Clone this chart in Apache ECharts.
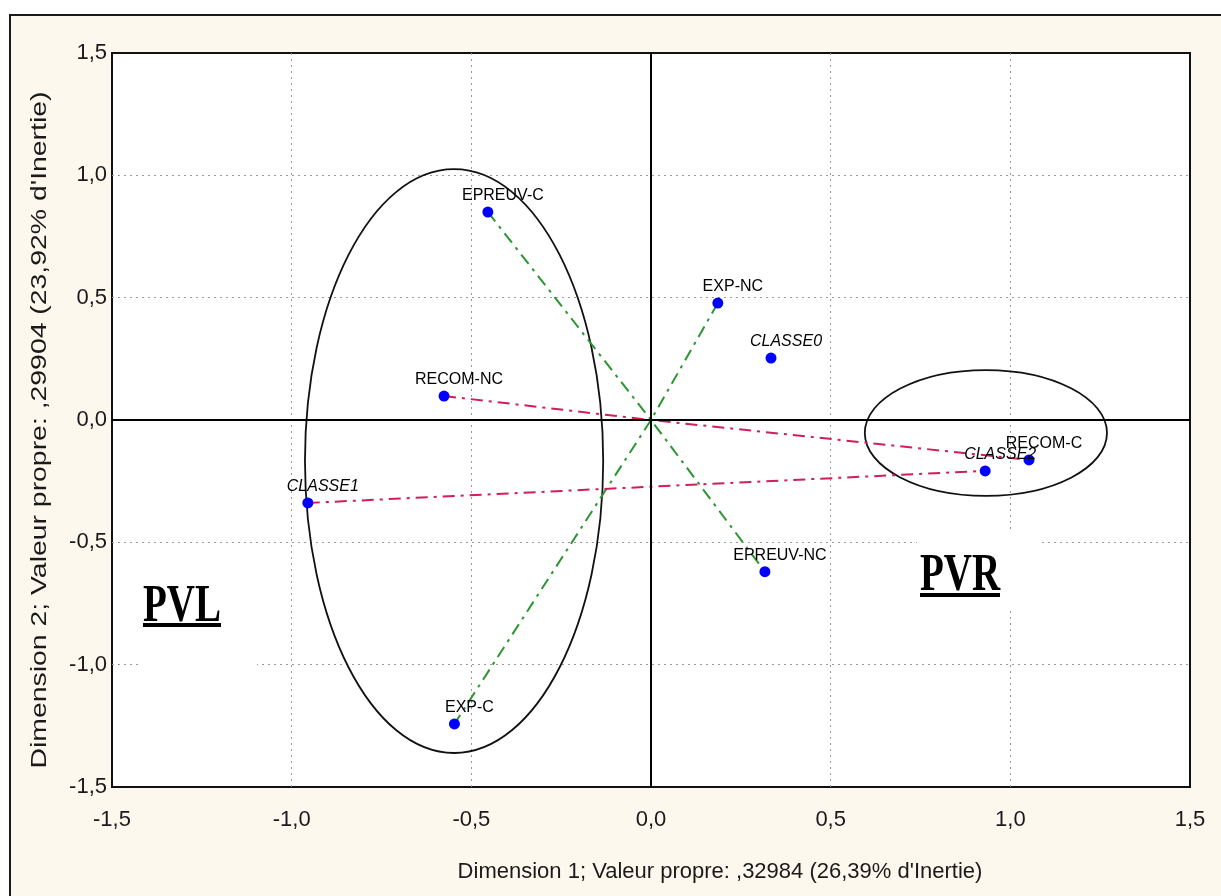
<!DOCTYPE html>
<html>
<head>
<meta charset="utf-8">
<script src="https://cdn.jsdelivr.net/npm/echarts@6/dist/echarts.min.js"></script>
<style>
  html, body { margin: 0; padding: 0; background: #ffffff; overflow: hidden; }
  #wrap { position: relative; width: 1221px; height: 896px; overflow: hidden; background: #ffffff; }
  #frame { position: absolute; left: 9px; top: 14px; width: 1260px; height: 940px;
           border-left: 2px solid #1a1a1a; border-top: 2px solid #1a1a1a; background: #fdf8ee; }
  #chart { position: absolute; left: 0; top: 0; width: 1221px; height: 896px; }
</style>
</head>
<body>
<div id="wrap">
  <div id="frame"></div>
  <div id="chart"></div>
</div>
<script>
// ---- Data ----
const pointNames = ['EPREUV-C', 'EXP-NC', 'CLASSE0', 'RECOM-NC', 'CLASSE1', 'CLASSE2', 'RECOM-C', 'EPREUV-NC', 'EXP-C'];
const dim1 = [-0.454, 0.186, 0.334, -0.576, -0.955, 0.930, 1.052, 0.317, -0.547];
const dim2 = [0.850, 0.478, 0.253, 0.098, -0.339, -0.208, -0.163, -0.620, -1.242];
const italicNames = ['CLASSE0', 'CLASSE1', 'CLASSE2'];

// connecting lines: from -> (origin) -> to
const lineFrom = ['EPREUV-C', 'EXP-NC', 'RECOM-NC', 'CLASSE1'];
const lineTo = ['EPREUV-NC', 'EXP-C', 'RECOM-C', 'CLASSE2'];
const lineViaOrigin = [true, true, true, false];
const origin = [0, 0];

// ellipses: centre x, centre y, radius x, radius y (data units)
const ellipseCx = [-0.548, 0.932];
const ellipseCy = [-0.168, -0.053];
const ellipseRx = [0.415, 0.337];
const ellipseRy = [1.193, 0.257];

const axisMin = -1.5, axisMax = 1.5, axisStep = 0.5;
const xTitle = "Dimension 1; Valeur propre: ,32984 (26,39% d'Inertie)";
const yTitle = "Dimension 2; Valeur propre: ,29904 (23,92% d'Inertie)";
const groupLabels = ['PVL', 'PVR'];

// ---- Styles ----
const lineColors = ['#2a962f', '#2a962f', '#d01f58', '#d01f58'];
const fmt = v => v.toFixed(1).replace('.', ',');
const idx = n => pointNames.indexOf(n);
const pt = n => [dim1[idx(n)], dim2[idx(n)]];

const chart = echarts.init(document.getElementById('chart'), null, { renderer: 'canvas' });

const series = [];

// ellipses + zero axes
series.push({
  type: 'custom',
  coordinateSystem: 'cartesian2d',
  z: 2,
  silent: true,
  encode: { x: 0, y: 1 },
  data: ellipseCx.map((c, i) => [c, ellipseCy[i], ellipseRx[i], ellipseRy[i]]),
  renderItem: function (params, api) {
    const c = api.coord([api.value(0), api.value(1)]);
    const s = api.size([api.value(2), api.value(3)]);
    return {
      type: 'ellipse',
      shape: { cx: c[0], cy: c[1], rx: s[0], ry: s[1] },
      style: { fill: null, stroke: '#111', lineWidth: 1.8 }
    };
  },
  markLine: {
    silent: true,
    symbol: ['none', 'none'],
    label: { show: false },
    lineStyle: { color: '#000', width: 2, type: 'solid', opacity: 1 },
    data: [{ xAxis: 0 }, { yAxis: 0 }]
  }
});

// connecting lines
lineFrom.forEach((f, i) => {
  const pts = lineViaOrigin[i] ? [pt(f), origin, pt(lineTo[i])] : [pt(f), pt(lineTo[i])];
  series.push({
    type: 'line',
    z: 3,
    silent: true,
    symbol: 'none',
    data: pts,
    lineStyle: { color: lineColors[i], width: 2, type: [12, 6, 3, 6], opacity: 1 }
  });
});

// points
series.push({
  type: 'scatter',
  z: 5,
  symbol: 'circle',
  symbolSize: 11,
  itemStyle: { color: '#0000ff', opacity: 1 },
  data: pointNames.map((n, i) => ({
    value: [dim1[i], dim2[i]],
    name: n,
    label: { fontStyle: italicNames.includes(n) ? 'italic' : 'normal' }
  })),
  label: {
    show: true,
    position: 'top',
    distance: 3,
    offset: [15, 0],
    formatter: p => p.name,
    color: '#000',
    opacity: 1,
    fontFamily: 'Liberation Sans, Arial, sans-serif',
    fontSize: 16
  }
});

const axisCommon = {
  type: 'value',
  min: axisMin,
  max: axisMax,
  interval: axisStep,
  axisLine: { show: false },
  axisTick: { show: false },
  splitLine: { show: true, showMinLine: false, showMaxLine: false,
               lineStyle: { color: '#9a9a9a', width: 1, type: [2, 4] } },
  axisLabel: {
    formatter: fmt,
    color: '#1a1a1a',
    fontFamily: 'Liberation Sans, Arial, sans-serif',
    fontSize: 22
  }
};

const option = {
  animation: false,
  backgroundColor: 'transparent',
  grid: {
    left: 112, top: 53, right: 31, bottom: 109,
    show: true, backgroundColor: '#ffffff', borderColor: '#111', borderWidth: 2
  },
  xAxis: Object.assign({}, axisCommon, {
    axisLabel: Object.assign({}, axisCommon.axisLabel, { margin: 22 })
  }),
  yAxis: Object.assign({}, axisCommon, {
    axisLabel: Object.assign({}, axisCommon.axisLabel, { margin: 5 })
  }),
  graphic: [
    // white text boxes behind group labels (interrupt the grid lines)
    { type: 'rect', z: 1, silent: true, shape: { x: 142, y: 562, width: 115, height: 110 }, style: { fill: '#fff' } },
    { type: 'rect', z: 1, silent: true, shape: { x: 917, y: 532, width: 123, height: 78 }, style: { fill: '#fff' } },
    { type: 'text', z: 6, x: 143, y: 607, scaleY: 1.36, silent: true,
      style: { text: groupLabels[0], font: 'bold 39px "Liberation Serif", "Times New Roman", serif', fill: '#000', textAlign: 'left', textVerticalAlign: 'middle' } },
    { type: 'rect', z: 6, silent: true, shape: { x: 143, y: 623, width: 78, height: 4 }, style: { fill: '#000' } },
    { type: 'text', z: 6, x: 920, y: 576, scaleY: 1.36, silent: true,
      style: { text: groupLabels[1], font: 'bold 39px "Liberation Serif", "Times New Roman", serif', fill: '#000', textAlign: 'left', textVerticalAlign: 'middle' } },
    { type: 'rect', z: 6, silent: true, shape: { x: 920, y: 593, width: 80, height: 4 }, style: { fill: '#000' } },
    // axis titles
    { type: 'text', z: 6, x: 720, y: 872, silent: true,
      style: { text: xTitle, font: '22px "Liberation Sans", Arial, sans-serif', fill: '#1a1a1a', textAlign: 'center', textVerticalAlign: 'middle' } },
    { type: 'text', z: 6, x: 40, y: 430, rotation: Math.PI / 2, scaleX: 1.29, silent: true,
      style: { text: yTitle, font: '22px "Liberation Sans", Arial, sans-serif', fill: '#1a1a1a', textAlign: 'center', textVerticalAlign: 'middle' } }
  ],
  series: series
};

chart.setOption(option);
</script>
</body>
</html>
